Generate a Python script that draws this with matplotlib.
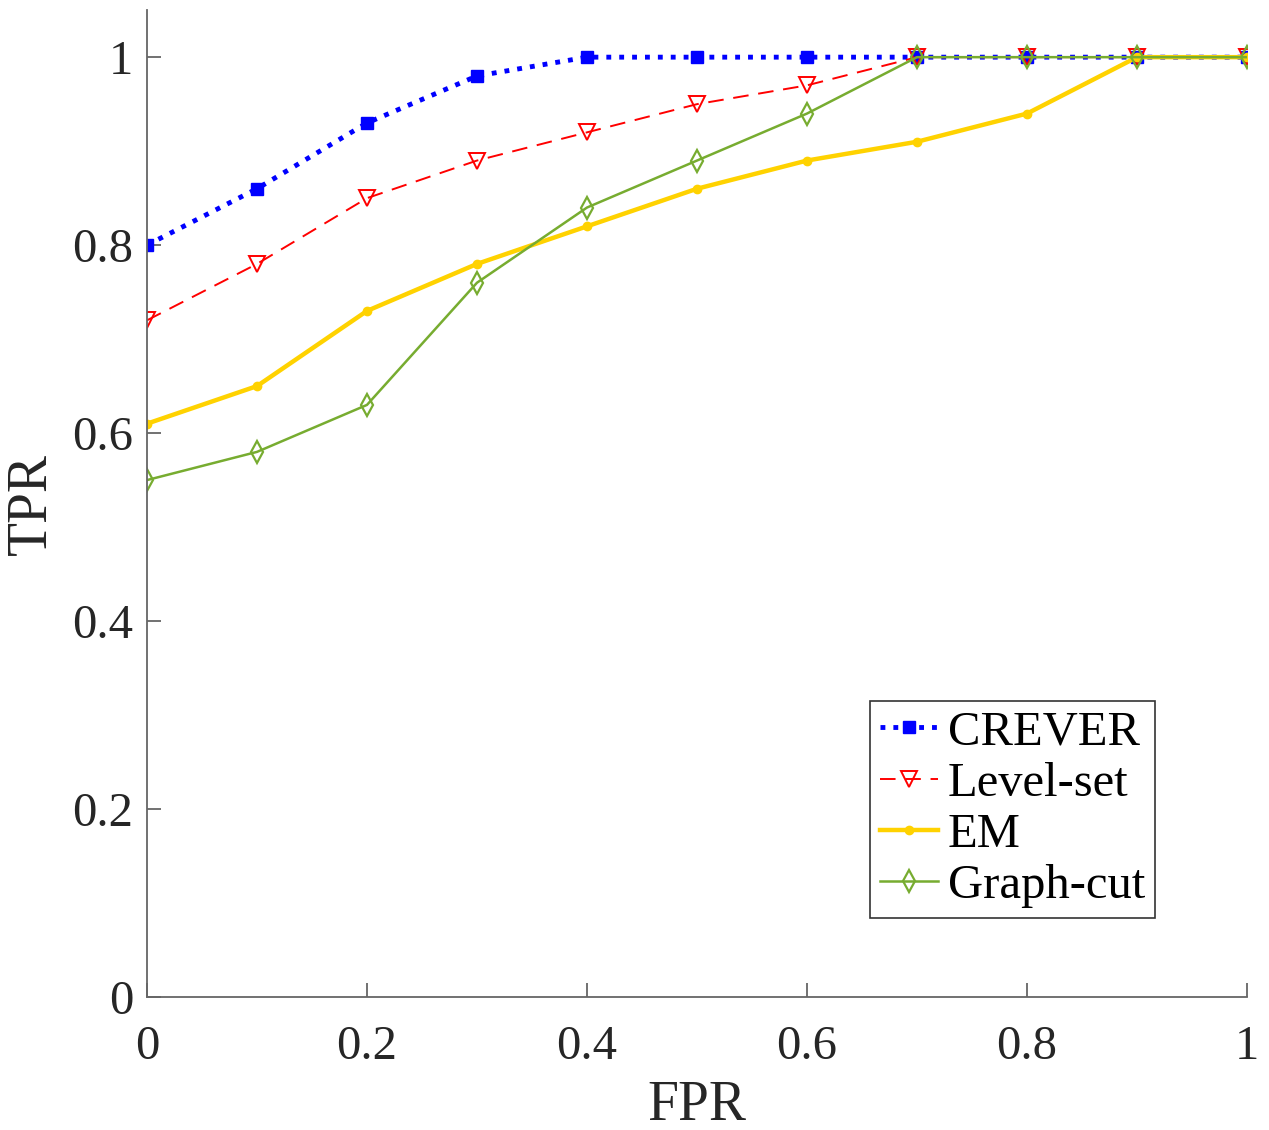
import numpy as np
import matplotlib
matplotlib.use("Agg")
import matplotlib.pyplot as plt

plt.rcParams['font.family'] = ['Liberation Serif', 'DejaVu Serif']

fpr = [0, 0.1, 0.2, 0.3, 0.4, 0.5, 0.6, 0.7, 0.8, 0.9, 1.0]
crever = [0.80, 0.86, 0.93, 0.98, 1, 1, 1, 1, 1, 1, 1]
level_set = [0.72, 0.78, 0.85, 0.89, 0.92, 0.95, 0.97, 1, 1, 1, 1]
em = [0.61, 0.65, 0.73, 0.78, 0.82, 0.86, 0.89, 0.91, 0.94, 1, 1]
graph_cut = [0.55, 0.58, 0.63, 0.76, 0.84, 0.89, 0.94, 1, 1, 1, 1]

fig = plt.figure(figsize=(12.69, 11.3), dpi=100)
ax = fig.add_axes([0.1158, 0.1177, 0.8669, 0.8733])

ax.plot(fpr, crever, ':', color='#0000ff', lw=3.5, marker='s', ms=8,
        mfc='#0000ff', mec='#0000ff', label='CREVER')
ax.plot(fpr, level_set, '--', color='#ff0000', lw=1.4, dashes=(8, 5), marker='v', ms=11,
        mfc='none', mec='#ff0000', mew=1.4, label='Level-set')
ax.plot(fpr, em, '-', color='#ffd200', lw=3.2, marker='o', ms=6,
        mfc='#ffd200', mec='#ffd200', label='EM')
ax.plot(fpr, graph_cut, '-', color='#77ac30', lw=1.8, marker='d', ms=11,
        mfc='none', mec='#77ac30', mew=1.6, label='Graph-cut')

ax.set_xlim(0, 1)
ax.set_ylim(0, 1.05)
ax.set_xticks([0, 0.2, 0.4, 0.6, 0.8, 1])
ax.set_xticklabels(['0', '0.2', '0.4', '0.6', '0.8', '1'])
ax.set_yticks([0, 0.2, 0.4, 0.6, 0.8, 1])
ax.set_yticklabels(['0', '0.2', '0.4', '0.6', '0.8', '1'])

for s in ['top', 'right']:
    ax.spines[s].set_visible(False)
for s in ['left', 'bottom']:
    ax.spines[s].set_color('#666666')
    ax.spines[s].set_linewidth(1.3)
ax.tick_params(direction='in', length=10, width=1.3, color='#666666',
               labelsize=35, labelcolor='#262626')
ax.tick_params(axis='x', pad=20)
ax.tick_params(axis='y', pad=10)

ax.set_xlabel('FPR', fontsize=40, color='#262626', labelpad=8)
ax.set_ylabel('TPR', fontsize=40, color='#262626', labelpad=10)

leg = ax.legend(loc='lower right', bbox_to_anchor=(0.916, 0.080), fontsize=35,
                fancybox=False, framealpha=1, edgecolor='#333333',
                handlelength=1.2, handletextpad=0.2, borderpad=0.2,
                labelspacing=0.15, borderaxespad=0)
leg.get_frame().set_linewidth(1.2)

fig.savefig('out.png', dpi=100)
